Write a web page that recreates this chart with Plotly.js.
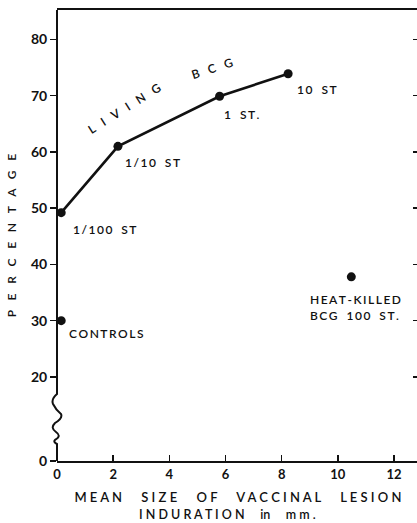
<!DOCTYPE html>
<html>
<head>
<meta charset="utf-8">
<script src="https://cdn.plot.ly/plotly-3.0.1.min.js"></script>
<style>
  html, body { margin: 0; padding: 0; overflow: hidden; background: #fff; }
  #chart { width: 422px; height: 523px; }
</style>
</head>
<body>
<div id="chart"></div>
<script>
// ---- data ----
const livingX = [0.15, 2.17, 5.79, 8.23];            // mean induration, mm
const livingY = [49.2, 61.0, 69.9, 73.9];            // percentage
const livingLabels = ['1/100 ST', '1/10 ST', '1 ST.', '10 ST'];
const controlsX = [0.15];
const controlsY = [30];
const controlsLabel = ['CONTROLS'];
const heatX = [10.48];
const heatY = [37.8];
const heatLabel = ['HEAT-KILLED', 'BCG 100 ST.'];
const yTickVals = [20, 30, 40, 50, 60, 70, 80];
const yTickText = ['20', '30', '40', '50', '60', '70', '80'];
const xTickVals = [0, 2, 4, 6, 8, 10, 12];
const xTickText = ['0', '2', '4', '6', '8', '10', '12'];

// ---- styling helpers ----
const INK = '#111';
const FONT = 'Lato, "DejaVu Sans", sans-serif';
const NB = '\u00A0';
const TH = '\u2009';
function spaced(str, gap, wordGap) {
  return str.split(' ').map(w => w.split('').join(gap)).join(wordGap);
}

// broken axis: bottom "0" sits where the break ends
const Y_BOTTOM = 5.05, Y_TOP = 85.24;
const X_MAX = 12.89;
const M = {l: 57, r: 3, t: 10, b: 62};
const W = 422, H = 523;
const plotH = H - M.t - M.b;
const plotW = W - M.l - M.r;

// zig-zag break drawn on the left axis (paper coordinates, page pixels in)
const bx = d => (d / plotW).toFixed(4);
const by = p => ((H - M.b - p) / plotH).toFixed(4);
const breakPath =
  'M0,1 L0,' + by(394) +
  ' Q' + bx(-6) + ',' + by(399) + ' ' + bx(-4) + ',' + by(404) +
  ' Q' + bx(-1) + ',' + by(410) + ' ' + bx(4) + ',' + by(414) +
  ' Q' + bx(6) + ',' + by(418) + ' ' + bx(-2) + ',' + by(423) +
  ' Q' + bx(-7) + ',' + by(428) + ' ' + bx(-1) + ',' + by(432) +
  ' Q' + bx(5) + ',' + by(436) + ' ' + bx(-2) + ',' + by(440) +
  ' Q' + bx(-4) + ',' + by(442) + ' 0,' + by(444) +
  ' L0,0';

const traces = [
  {x: livingX, y: livingY, mode: 'lines+markers', type: 'scatter',
   line: {color: INK, width: 2.6}, marker: {color: INK, size: 9}, hoverinfo: 'skip'},
  {x: controlsX, y: controlsY, mode: 'markers', type: 'scatter',
   marker: {color: INK, size: 9}, hoverinfo: 'skip'},
  {x: heatX, y: heatY, mode: 'markers', type: 'scatter',
   marker: {color: INK, size: 9}, hoverinfo: 'skip'},
  // invisible trace to carry the right-hand tick marks
  {x: [0], y: [Y_BOTTOM], yaxis: 'y2', mode: 'markers', marker: {opacity: 0}, hoverinfo: 'skip', showlegend: false}
];

const labelFont = {family: FONT, size: 12, color: INK, weight: 600};
const lblOffsets = [[10, -17], [5, -16], [2, -18], [7, -16]];
const annotations = [];
livingLabels.forEach((t, i) => {
  annotations.push({x: livingX[i], y: livingY[i], xref: 'x', yref: 'y',
    text: spaced(t, TH, NB + NB + NB), showarrow: false, xanchor: 'left', yanchor: 'middle',
    xshift: lblOffsets[i][0], yshift: lblOffsets[i][1], font: labelFont});
});
annotations.push({x: controlsX[0], y: controlsY[0], xref: 'x', yref: 'y',
  text: spaced(controlsLabel[0], TH, NB), showarrow: false, xanchor: 'left', yanchor: 'middle',
  xshift: 6, yshift: -13, font: labelFont});
annotations.push({x: heatX[0], y: heatY[0], xref: 'x', yref: 'y',
  text: heatLabel.map(s => spaced(s, TH, NB + NB + NB)).join('<br>'),
  showarrow: false, xanchor: 'left', yanchor: 'middle', align: 'left',
  xshift: -43, yshift: -31, font: labelFont});
annotations.push({x: 2.39, y: 67.7, xref: 'x', yref: 'y', text: spaced('LIVING', NB + NB + NB, ''),
  showarrow: false, textangle: -32, font: labelFont});
annotations.push({x: 5.52, y: 74.8, xref: 'x', yref: 'y', text: spaced('BCG', NB + NB + NB, ''),
  showarrow: false, textangle: -18, font: labelFont});
annotations.push({x: 0.5, y: 0, xref: 'paper', yref: 'paper', yshift: -M.b,
  text: spaced('INDURATION', NB, '') + NB.repeat(5) + 'in' + NB.repeat(5) + spaced('mm.', NB, ''),
  showarrow: false, xanchor: 'center', yanchor: 'bottom', xshift: -11, borderpad: 0,
  font: {family: FONT, size: 12.5, color: INK, weight: 600}});

const layout = {
  width: W, height: H,
  margin: M,
  paper_bgcolor: '#fff', plot_bgcolor: '#fff',
  showlegend: false,
  font: {family: FONT, color: INK},
  xaxis: {
    range: [0, X_MAX], tickvals: xTickVals, ticktext: xTickText,
    ticks: 'inside', ticklen: 6, tickwidth: 1.5, tickcolor: INK,
    showline: true, linewidth: 2, linecolor: INK, mirror: true,
    showgrid: false, zeroline: false,
    tickfont: {family: FONT, size: 13, color: INK, weight: 700},
    title: {text: spaced('MEAN SIZE OF VACCINAL LESION', NB, NB.repeat(6)),
            font: {family: FONT, size: 13, color: INK, weight: 600}, standoff: 12}
  },
  yaxis: {
    range: [Y_BOTTOM, Y_TOP],
    tickvals: [Y_BOTTOM].concat(yTickVals), ticktext: ['0'].concat(yTickText),
    ticks: 'outside', ticklen: 6, tickwidth: 1.5, tickcolor: INK,
    showline: false, showgrid: false, zeroline: false,
    tickfont: {family: FONT, size: 14, color: INK, weight: 700},
    title: {text: spaced('PERCENTAGE', NB.repeat(3) + '\u200A', ''),
            font: {family: FONT, size: 12, color: INK, weight: 600}, standoff: 11}
  },
  yaxis2: {
    overlaying: 'y', side: 'right', anchor: 'x',
    range: [Y_BOTTOM, Y_TOP], tickvals: yTickVals,
    ticks: 'inside', ticklen: 6, tickwidth: 1.5, tickcolor: INK,
    showticklabels: false, showline: false, showgrid: false, zeroline: false
  },
  shapes: [
    {type: 'path', xref: 'paper', yref: 'paper', path: breakPath, line: {color: INK, width: 2}}
  ],
  annotations: annotations
};

Plotly.newPlot('chart', traces, layout, {staticPlot: true, displayModeBar: false});
</script>
</body>
</html>
